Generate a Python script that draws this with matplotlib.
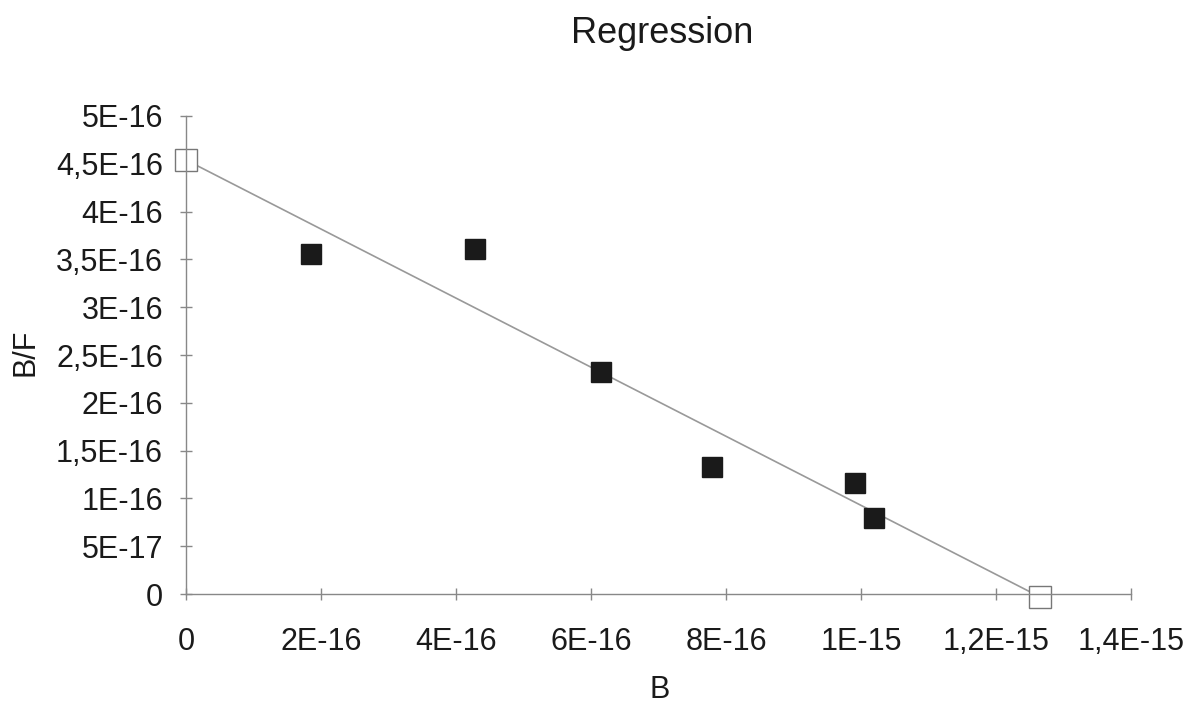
import numpy as np
import matplotlib
matplotlib.use('Agg')
import matplotlib.pyplot as plt

plt.rcParams['font.family'] = ['Liberation Sans', 'DejaVu Sans']

# measured points
b = [1.85e-16, 4.28e-16, 6.15e-16, 7.79e-16, 9.91e-16, 1.019e-15]
bf = [3.56e-16, 3.61e-16, 2.32e-16, 1.33e-16, 1.16e-16, 0.79e-16]

# regression line end points (intercepts)
line_b = [0.0, 1.265e-15]
line_bf = [4.54e-16, -0.03e-16]

xticks = [0, 2e-16, 4e-16, 6e-16, 8e-16, 1e-15, 1.2e-15, 1.4e-15]
xlabels = ['0', '2E-16', '4E-16', '6E-16', '8E-16', '1E-15', '1,2E-15', '1,4E-15']
yticks = [0, 5e-17, 1e-16, 1.5e-16, 2e-16, 2.5e-16, 3e-16, 3.5e-16, 4e-16, 4.5e-16, 5e-16]
ylabels = ['0', '5E-17', '1E-16', '1,5E-16', '2E-16', '2,5E-16', '3E-16',
           '3,5E-16', '4E-16', '4,5E-16', '5E-16']

fig = plt.figure(figsize=(11.97, 7.06), dpi=100)
ax = fig.add_axes([0.1554, 0.1586, 0.7895, 0.6771])

ax.plot(line_b, line_bf, color='#999999', lw=1.2, zorder=2,
        marker='s', markersize=15.5, markerfacecolor='white',
        markeredgecolor='#777777', markeredgewidth=1.0, clip_on=False)
ax.plot(b, bf, 's', color='#1a1a1a', markersize=14.5, zorder=3, clip_on=False)

ax.set_xlim(0, 1.4e-15)
ax.set_ylim(0, 5e-16)
ax.set_xticks(xticks)
ax.set_xticklabels(xlabels)
ax.set_yticks(yticks)
ax.set_yticklabels(ylabels)
ax.tick_params(direction='inout', length=9, width=1, color='#888888',
               labelsize=22, labelcolor='#1a1a1a')
ax.tick_params(axis='x', pad=19)
ax.tick_params(axis='y', pad=12)

for s in ['top', 'right']:
    ax.spines[s].set_visible(False)
for s in ['left', 'bottom']:
    ax.spines[s].set_color('#888888')
    ax.spines[s].set_linewidth(1)

fig.text(0.551, 0.012, 'B', fontsize=22, ha='center', va='baseline',
         color='#1a1a1a')
fig.text(0.021, 0.501, 'B/F', fontsize=22, ha='center', va='center',
         rotation=90, color='#1a1a1a')
fig.text(0.553, 0.939, 'Regression', fontsize=26, ha='center', va='baseline',
         color='#1a1a1a')

fig.savefig('out.png', dpi=100)
